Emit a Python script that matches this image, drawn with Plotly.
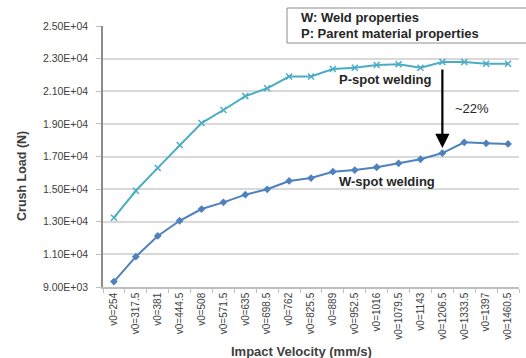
import plotly.graph_objects as go

# Impact velocities (mm/s) used as category labels
velocities = ["254", "317.5", "381", "444.5", "508", "571.5", "635", "698.5", "762",
              "825.5", "889", "952.5", "1016", "1079.5", "1143", "1206.5", "1333.5",
              "1397", "1460.5"]
categories = ["v0=" + v for v in velocities]

# Crush load (N) with parent material properties at the spot welds
p_spot = [13250, 14900, 16300, 17700, 19050, 19850, 20700, 21180, 21900, 21900,
          22360, 22440, 22610, 22650, 22440, 22790, 22790, 22680, 22680]
# Crush load (N) with weld properties at the spot welds
w_spot = [9330, 10860, 12130, 13060, 13780, 14190, 14660, 14990, 15500, 15680,
          16070, 16170, 16340, 16580, 16830, 17210, 17870, 17810, 17770]

y_ticks = [9000, 11000, 13000, 15000, 17000, 19000, 21000, 23000, 25000]
y_tick_text = ["9.00E+03", "1.10E+04", "1.30E+04", "1.50E+04", "1.70E+04",
               "1.90E+04", "2.10E+04", "2.30E+04", "2.50E+04"]

FONT = "Liberation Sans, Arial, sans-serif"
W, H = 526, 358
ML, MR, MT, MB = 103, 7, 26, 71
PW, PH = W - ML - MR, H - MT - MB


def px_x(px):
    return (px - ML) / PW


def px_y(py):
    return (H - MB - py) / PH


fig = go.Figure()
fig.add_trace(go.Scatter(
    x=categories, y=p_spot, mode="lines+markers", name="P-spot welding",
    line=dict(color="#4BACC6", width=2),
    marker=dict(symbol="x-thin", size=6, color="#4BACC6",
                line=dict(color="#4BACC6", width=1.5)),
))
fig.add_trace(go.Scatter(
    x=categories, y=w_spot, mode="lines+markers", name="W-spot welding",
    line=dict(color="#4F81BD", width=2),
    marker=dict(symbol="diamond", size=6, color="#4F81BD"),
))

# Note box with the legend text
fig.add_shape(type="rect", xref="paper", yref="paper",
              x0=px_x(287), x1=px_x(540), y0=px_y(43), y1=px_y(8),
              line=dict(color="#8c8c8c", width=1), fillcolor="white", layer="above")

annotations = [
    dict(text="<b>W: Weld properties</b>", x=px_x(299), y=px_y(18)),
    dict(text="<b>P: Parent material properties</b>", x=px_x(299), y=px_y(33)),
    dict(text="<b>P-spot welding</b>", x=px_x(337), y=px_y(79)),
    dict(text="<b>W-spot welding</b>", x=px_x(337), y=px_y(182)),
    dict(text="~22%", x=px_x(453), y=px_y(108)),
]
for a in annotations:
    fig.add_annotation(xref="paper", yref="paper", xanchor="left", yanchor="middle",
                       showarrow=False, font=dict(family=FONT, size=13, color="#262626"),
                       text=a["text"], x=a["x"], y=a["y"])

# Arrow marking the drop between the two curves
fig.add_annotation(x=15, y=17520, ax=15, ay=22430, xref="x", yref="y",
                   axref="x", ayref="y", text="", showarrow=True,
                   arrowhead=2, arrowsize=1.3, arrowwidth=2.2, arrowcolor="black")

# Axis titles
fig.add_annotation(xref="paper", yref="paper", x=px_x(301), y=px_y(352),
                   text="<b>Impact Velocity (mm/s)</b>", showarrow=False,
                   font=dict(family=FONT, size=13, color="#404040"),
                   xanchor="center", yanchor="middle")
fig.add_annotation(xref="paper", yref="paper", x=px_x(22), y=px_y(176),
                   text="<b>Crush Load (N)</b>", showarrow=False, textangle=-90,
                   font=dict(family=FONT, size=12.5, color="#404040"),
                   xanchor="center", yanchor="middle")

fig.update_layout(
    width=W, height=H,
    margin=dict(l=ML, r=MR, t=MT, b=MB),
    paper_bgcolor="white", plot_bgcolor="white",
    showlegend=False,
    font=dict(family=FONT, size=10, color="#404040"),
    xaxis=dict(
        type="category", tickangle=-90, showgrid=False,
        showline=True, linecolor="#bfbfbf", linewidth=1.5,
        ticks="outside", tickson="boundaries", ticklen=4, tickcolor="#bfbfbf",
        tickfont=dict(family=FONT, size=10, color="#404040"),
        range=[-0.5, len(categories) - 0.5],
    ),
    yaxis=dict(
        range=[9000, 25000], tickvals=y_ticks, ticktext=y_tick_text,
        showgrid=True, gridcolor="#d9d9d9", gridwidth=1.5,
        showline=True, linecolor="#8c8c8c", linewidth=1.5,
        ticks="outside", ticklen=5, tickcolor="#bfbfbf",
        ticklabelstandoff=6,
        tickfont=dict(family=FONT, size=10.5, color="#404040"),
        zeroline=False,
    ),
)

fig.write_html("out.html")
